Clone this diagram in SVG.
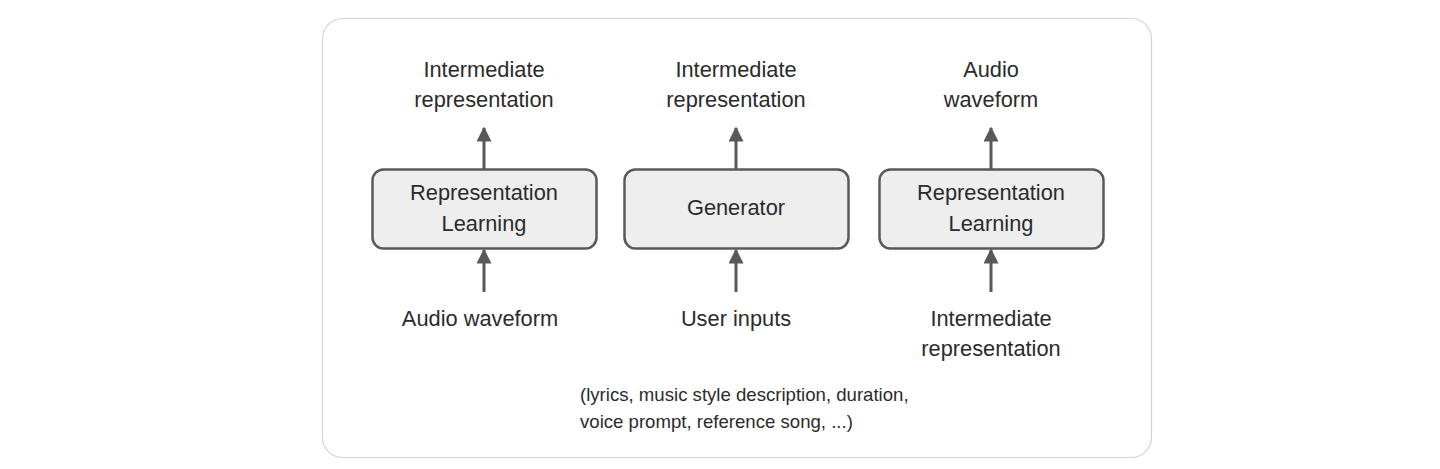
<svg xmlns="http://www.w3.org/2000/svg" width="1440" height="469" viewBox="0 0 1440 469">
<defs>
<style>
.t{font-family:"Liberation Sans",Arial,sans-serif;font-size:21.8px;fill:#2b2b2b;text-anchor:middle}
.s{font-family:"Liberation Sans",Arial,sans-serif;font-size:18.6px;fill:#2b2b2b}
.box{fill:#eeeeee;stroke:#595959;stroke-width:2.5}
.c{stroke:#595959;stroke-width:3;fill:none;marker-end:url(#ah)}
</style>
<marker id="ah" viewBox="0 0 10 10" refX="9" refY="5" markerWidth="5" markerHeight="5" markerUnits="strokeWidth" orient="auto">
<path d="M0,0 L10,5 L0,10 z" fill="#595959"/>
</marker>
</defs>
<rect width="1440" height="469" fill="#ffffff"/>
<rect x="322.5" y="18.5" width="829" height="439" rx="20" fill="#ffffff" stroke="#d6d0e0" stroke-width="1.2"/>
<g id="connectors">
<line class="c" x1="484" y1="169" x2="484" y2="128"/>
<line class="c" x1="484" y1="292" x2="484" y2="250"/>
<line class="c" x1="736" y1="169" x2="736" y2="128"/>
<line class="c" x1="736" y1="292" x2="736" y2="250"/>
<line class="c" x1="991" y1="169" x2="991" y2="128"/>
<line class="c" x1="991" y1="292" x2="991" y2="250"/>
</g>
<g id="node-rl1">
<rect class="box" x="372.5" y="169.5" width="224" height="79" rx="11"/>
<text class="t" x="484" y="200">Representation</text>
<text class="t" x="484" y="231">Learning</text>
</g>
<g id="node-gen">
<rect class="box" x="624.5" y="169.5" width="224" height="79" rx="11"/>
<text class="t" x="736" y="215">Generator</text>
</g>
<g id="node-rl2">
<rect class="box" x="879.5" y="169.5" width="224" height="79" rx="11"/>
<text class="t" x="991" y="200">Representation</text>
<text class="t" x="991" y="231">Learning</text>
</g>
<g id="label-ir1">
<text class="t" x="484" y="77">Intermediate</text>
<text class="t" x="484" y="107">representation</text>
</g>
<g id="label-ir2">
<text class="t" x="736" y="77">Intermediate</text>
<text class="t" x="736" y="107">representation</text>
</g>
<g id="label-aw2">
<text class="t" x="991" y="77">Audio</text>
<text class="t" x="991" y="107">waveform</text>
</g>
<g id="label-aw1">
<text class="t" x="480" y="326">Audio waveform</text>
</g>
<g id="label-ui">
<text class="t" x="736" y="326">User inputs</text>
</g>
<g id="label-ir3">
<text class="t" x="991" y="326">Intermediate</text>
<text class="t" x="991" y="356">representation</text>
</g>
<g id="label-note">
<text class="s" x="580" y="401">(lyrics, music style description, duration,</text>
<text class="s" x="580" y="428">voice prompt, reference song, ...)</text>
</g>
</svg>
